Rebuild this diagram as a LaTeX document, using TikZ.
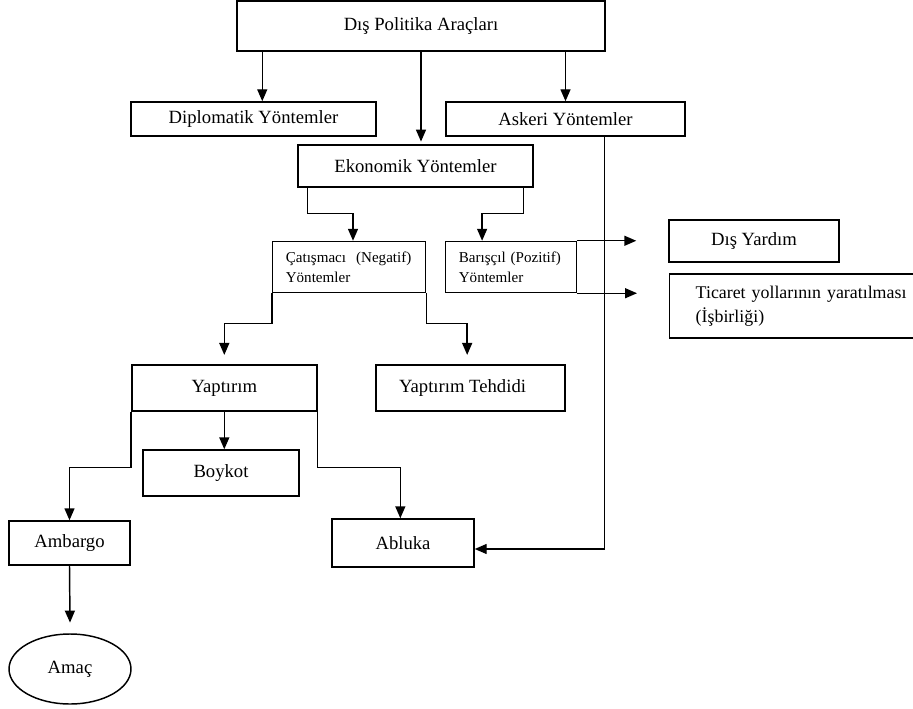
\documentclass[tikz,border=0pt]{standalone}
\usepackage{fontspec}
\setmainfont{Liberation Serif}
\usetikzlibrary{positioning,shapes,arrows.meta}
\tikzstyle{kutu} = [rectangle, draw=black, line width=1.1pt, text centered, inner sep=0pt, font=\fontsize{14}{16}\selectfont]
\tikzstyle{ikisatir} = [rectangle, draw=black, line width=1.1pt, align=left, inner xsep=10pt, inner ysep=0pt, font=\fontsize{11.3}{15}\selectfont]
\tikzstyle{arrow} = [line width=1.1pt, -{Triangle[length=9pt,width=7.5pt]}]

\begin{document}
\begin{tikzpicture}[x=0.75pt, y=-0.75pt]
\useasboundingbox (0,0) rectangle (913,709);
\fill[white] (0,0) rectangle (913,709);
\clip (0,0) rectangle (913,709);

\node (politika) at (421,26) [kutu,
minimum width=276pt, minimum height=37.5pt] {Dış Politika Araçları};
%
\node (diplo) at (253.5,119) [kutu,
minimum width=183.75pt, minimum height=25.5pt] {Diplomatik Yöntemler};
%
\node (askeri) at (565.5,119) [kutu,
minimum width=179.25pt, minimum height=25.5pt] {Askeri Yöntemler};
%
\node (ekonomik) at (415.5,166) [kutu,
minimum width=176.25pt, minimum height=31.5pt] {Ekonomik Yöntemler};
%
\node (catisma) at (349,267) [ikisatir, text width=94.75pt,
minimum width=114.75pt, minimum height=38.25pt] {Çatışmacı \ (Negatif)\\Yöntemler};
%
\node (baris) at (511,267) [ikisatir, text width=78.25pt,
minimum width=98.25pt, minimum height=38.25pt] {Barışçıl (Pozitif)\\Yöntemler};
%
\node (yardim) at (754,241) [kutu,
minimum width=127.5pt, minimum height=31.5pt] {Dış Yardım};
%
\node (ticaret) at (669,306) [anchor=west, rectangle, draw=black, line width=1.1pt,
align=left, inner xsep=19.5pt, inner ysep=0pt, text width=170pt,
font=\fontsize{13.4}{18}\selectfont, minimum height=48pt] {Ticaret yollarının yaratılması\\(İşbirliği)};
%
\node (yaptirim) at (224.3,388) [kutu,
minimum width=138.75pt, minimum height=34.5pt] {Yaptırım};
%
\node (tehdit) at (470.5,388) [kutu,
minimum width=141.75pt, minimum height=34.5pt] {\hspace*{-12pt}Yaptırım Tehdidi};
%
\node (boykot) at (221,473) [kutu,
minimum width=117pt, minimum height=34.5pt] {Boykot};
%
\node (ambargo) at (69.5,543) [kutu,
minimum width=90.75pt, minimum height=33pt] {Ambargo};
%
\node (abluka) at (403,543) [kutu,
minimum width=106.5pt, minimum height=36pt] {Abluka};
%
\node (amac) at (70,669) [ellipse, draw=black, line width=1.1pt, inner sep=0pt,
font=\fontsize{14}{16}\selectfont,
minimum width=91.5pt, minimum height=52.5pt] {Amaç};
%
\draw [arrow] ([xshift=19.5pt]politika.south west) coordinate (p1) -- (p1 |- diplo.north);
\draw [arrow] (politika.south) -- ([yshift=2pt]politika.south |- ekonomik.north);
\draw [arrow] (askeri.north |- politika.south) -- (askeri.north);
\draw [arrow] ([xshift=7.5pt]ekonomik.south west) -- ++(0,26) -| ([xshift=3pt]catisma.north);
\draw [arrow] ([xshift=-7.5pt]ekonomik.south east) -- ++(0,26) -| ([xshift=28pt]baris.north west);
\draw [arrow] (baris.north east) -- ([xshift=-24pt]baris.north east -| yardim.west);
\draw [arrow] (baris.south east) -- ([xshift=-24pt]baris.south east -| ticaret.west);
\draw [arrow] ([xshift=-60.75pt]askeri.south east) |- ([yshift=-4.5pt]abluka.east);
\draw [arrow] (catisma.south west) -- ++(0,30) -| ([yshift=7pt]yaptirim.north);
\draw [arrow] (catisma.south east) -- ++(0,30) -| ([xshift=-2.5pt,yshift=7pt]tehdit.north);
\draw [arrow] (yaptirim.south) -- (yaptirim.south |- boykot.north);
\draw [arrow] (yaptirim.south west) -- ++(0,56) -| (ambargo.north);
\draw [arrow] (yaptirim.south east) -- ++(0,56) -| ([xshift=-2pt]abluka.north);
\draw [arrow] (ambargo.south) -- ([yshift=8pt]amac.north);

\end{tikzpicture}
\end{document}
